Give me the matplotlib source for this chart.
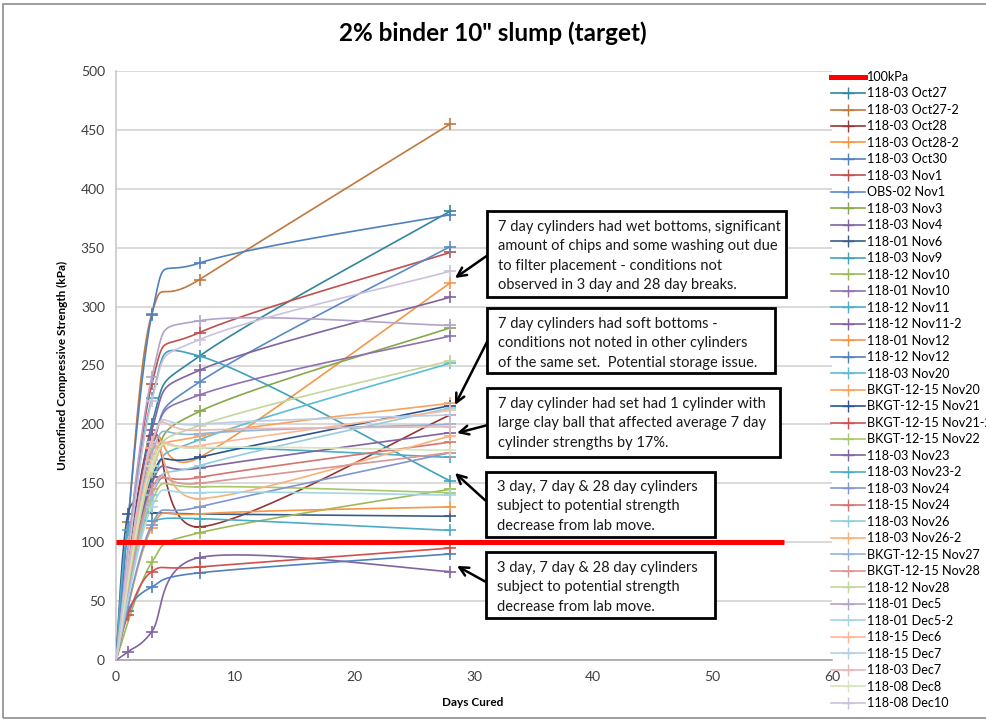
import numpy as np
import matplotlib
matplotlib.use("Agg")
import matplotlib.pyplot as plt
from matplotlib.lines import Line2D
from matplotlib.patches import Rectangle

plt.rcParams['font.family'] = ['Lato', 'DejaVu Sans']

# ---- data -------------------------------------------------------------
days = [0, 1, 3, 7, 28]

series_names = [
    "118-03 Oct27", "118-03 Oct27-2", "118-03 Oct28", "118-03 Oct28-2",
    "118-03 Oct30", "118-03 Nov1", "OBS-02 Nov1", "118-03 Nov3",
    "118-03 Nov4", "118-01 Nov6", "118-03 Nov9", "118-12 Nov10",
    "118-01 Nov10", "118-12 Nov11", "118-12 Nov11-2", "118-01 Nov12",
    "118-12 Nov12", "118-03 Nov20", "BKGT-12-15 Nov20", "BKGT-12-15 Nov21",
    "BKGT-12-15 Nov21-2", "BKGT-12-15 Nov22", "118-03 Nov23", "118-03 Nov23-2",
    "118-03 Nov24", "118-15 Nov24", "118-03 Nov26", "118-03 Nov26-2",
    "BKGT-12-15 Nov27", "BKGT-12-15 Nov28", "118-12 Nov28", "118-01 Dec5",
    "118-01 Dec5-2", "118-15 Dec6", "118-15 Dec7", "118-03 Dec7",
    "118-08 Dec8", "118-08 Dec10",
]

nan = float("nan")
strength_day0 = [0] * 38
strength_day1 = [nan, 117, nan, nan, nan, nan, nan, nan,
                 nan, 124, nan, nan, nan, nan, 7, nan,
                 42, nan, nan, nan, 38, nan, nan, 110,
                 nan, nan, nan, nan, nan, nan, nan, nan,
                 nan, nan, nan, nan, nan, nan]
strength_day3 = [200, 294, 190, 182, 293, 234, 180, 160,
                 195, 125, 222, 83, 180, 165, 24, 112,
                 62, 150, 160, 155, 75, 135, 150, 118,
                 115, 140, 140, 180, 175, 145, 160, 240,
                 130, 170, 185, 185, 165, 220]
strength_day7 = [258, 323, 113, 172, 337, 278, 236, 211,
                 246, 124, 258, 108, 225, 180, 87, 124,
                 74, 187, 190, 172, 79, 147, 163, 120,
                 130, 155, 165, 137, 192, 150, 199, 288,
                 142, 182, 200, 195, 180, 272]
strength_day28 = [381, 455, 208, 320, 378, 346, 351, 282,
                  308, 122, 152, 145, 275, 172, 75, 130,
                  90, 252, 218, 216, 95, 142, 193, 110,
                  176, 185, 214, 190, 200, 176, 254, 284,
                  140, 212, 208, 198, 178, 330]

target_kpa = 100
target_span = [0, 56]

# ---- styling ----------------------------------------------------------
series_colors = [
    "#31859C", "#C0783C", "#953735", "#F79646", "#4F81BD", "#C0504D",
    "#5A8AC6", "#86A84A", "#8064A2", "#385D8A", "#3FA2BA", "#9BBB59",
    "#8E72B0", "#4BACC6", "#8064A2", "#F79646", "#4F81BD", "#5BBCD6",
    "#F9A35E", "#2C5590", "#D0504D", "#A9C86A", "#8064A2", "#4BACC6",
    "#7F96D0", "#D47472", "#93CDDD", "#FAB07A", "#95B3D7", "#D99694",
    "#C3D69B", "#B3A2C7", "#A5D5E3", "#FBB898", "#B9CDE5", "#E6B9B8",
    "#D7E4BD", "#CCC1DA",
]


def smooth_curve(xs, ys, steps=40):
    """Bezier smoothing through the points (spreadsheet style)."""
    pts = np.column_stack([xs, ys]).astype(float)
    n = len(pts)
    if n < 3:
        return pts[:, 0], pts[:, 1]
    out = [pts[0]]
    t = np.linspace(0, 1, steps)[1:, None]
    for i in range(n - 1):
        p0 = pts[i - 1] if i > 0 else pts[i]
        p1 = pts[i]
        p2 = pts[i + 1]
        p3 = pts[i + 2] if i + 2 < n else pts[i + 1]
        dx = p2[0] - p1[0]
        d1 = (p2 - p0) / 6.0
        d2 = (p3 - p1) / 6.0
        lim = 0.9 * dx
        if d1[0] > lim:
            d1 = d1 * lim / d1[0]
        if d2[0] > lim:
            d2 = d2 * lim / d2[0]
        c1 = p1 + d1
        c2 = p2 - d2
        seg = ((1 - t) ** 3) * p1 + 3 * ((1 - t) ** 2) * t * c1 \
            + 3 * (1 - t) * t ** 2 * c2 + t ** 3 * p2
        out.extend(seg)
    out = np.array(out)
    return out[:, 0], out[:, 1]


W, H = 986, 722
fig = plt.figure(figsize=(W / 100, H / 100), dpi=100)


def fx(px):
    return px / W


def fy(py):
    return 1 - py / H


ax = fig.add_axes([fx(116), fy(660), fx(832) - fx(116), fy(71) - fy(660)])
ax.set_xlim(0, 60)
ax.set_ylim(0, 500)
ax.set_xticks(range(0, 61, 10))
ax.set_yticks(range(0, 501, 50))
ax.tick_params(length=0, labelsize=10, colors="#404040", pad=8)
ax.yaxis.grid(True, color="#D9D9D9", linewidth=1.4)
ax.set_axisbelow(True)
for side in ("top", "right"):
    ax.spines[side].set_visible(False)
ax.spines["left"].set_color("#C8C8C8")
ax.spines["bottom"].set_color("#A6A6A6")
ax.spines["left"].set_linewidth(1.2)
ax.spines["bottom"].set_linewidth(1.2)

handles = []
target_line, = ax.plot(target_span, [target_kpa, target_kpa], color="#FF0000",
                       linewidth=3.6, solid_capstyle="butt", zorder=5)
handles.append(Line2D([], [], color="#FF0000", linewidth=3.6))

for i, name in enumerate(series_names):
    vals = [strength_day0[i], strength_day1[i], strength_day3[i],
            strength_day7[i], strength_day28[i]]
    xs = [d for d, v in zip(days, vals) if not np.isnan(v)]
    ys = [v for v in vals if not np.isnan(v)]
    sx, sy = smooth_curve(xs, ys)
    c = series_colors[i]
    ax.plot(sx, sy, color=c, linewidth=1.2, zorder=3)
    ax.plot(xs[1:], ys[1:], linestyle="none", marker="+", markersize=8,
            markeredgewidth=1.2, color=c, zorder=3)
    handles.append(Line2D([], [], color=c, linewidth=1.2, marker="+",
                          markersize=8, markeredgewidth=1.0))

labels = ["100kPa"] + series_names
fig.legend(handles, labels, loc="upper left",
           bbox_to_anchor=(fx(831), fy(71)), frameon=False,
           fontsize=9.1, labelspacing=0.354, handlelength=2.7,
           handletextpad=0.15, borderpad=0, borderaxespad=0, numpoints=1)

fig.text(0.5, fy(33), "2% binder 10\" slump (target)", ha="center",
         va="center", fontsize=17.5, fontweight="bold")
fig.text(fx(473), fy(703), "Days Cured", ha="center", va="center",
         fontsize=8.5, fontweight="bold")
fig.text(fx(62), fy(365), "Unconfined Compressive Strength (kPa)",
         ha="center", va="center", rotation=90, fontsize=8.5,
         fontweight="bold")

# ---- callout boxes ----------------------------------------------------
notes = [
    ((487, 211, 786, 297), 227,
     ["7 day cylinders had wet bottoms, significant",
      "amount of chips and some washing out due",
      "to filter placement - conditions not",
      "observed in 3 day and 28 day breaks."],
     (488, 255), (455, 278)),
    ((487, 308, 775, 373), 324,
     ["7 day cylinders had soft bottoms -",
      "conditions not noted in other cylinders",
      "of the same set.  Potential storage issue."],
     (488, 340), (455, 405)),
    ((487, 388, 780, 457), 404,
     ["7 day cylinder had set had 1 cylinder with",
      "large clay ball that affected average 7 day",
      "cylinder strengths by 17%."],
     (488, 425), (457, 433)),
    ((486, 472, 715, 537), 487,
     ["3 day, 7 day & 28 day cylinders",
      "subject to potential strength",
      "decrease from lab move."],
     (486, 501), (455, 473)),
    ((486, 552, 715, 618), 568,
     ["3 day, 7 day & 28 day cylinders",
      "subject to potential strength",
      "decrease from lab move."],
     (486, 582), (457, 566)),
]
for (x0, y0, x1, y1), first_line, lines, start, tip in notes:
    fig.patches.append(Rectangle((fx(x0), fy(y1)), fx(x1) - fx(x0),
                                 fy(y0) - fy(y1), transform=fig.transFigure,
                                 facecolor="white", edgecolor="black",
                                 linewidth=2, zorder=6))
    for k, line in enumerate(lines):
        fig.text(fx(x0 + 11), fy(first_line + 19.3 * k), line, ha="left",
                 va="center", fontsize=10.5, color="#1a1a1a", zorder=7)
    ax.annotate("", xy=(fx(tip[0]), fy(tip[1])), xycoords="figure fraction",
                xytext=(fx(start[0]), fy(start[1])),
                textcoords="figure fraction",
                arrowprops=dict(arrowstyle="->", color="black", lw=1.8,
                                mutation_scale=16, shrinkA=0, shrinkB=0),
                zorder=7, annotation_clip=False)

# outer frame
fig.patches.append(Rectangle((fx(3), fy(718)), fx(1200), fy(4) - fy(718),
                             transform=fig.transFigure, facecolor="none",
                             edgecolor="#8C8C8C", linewidth=1.2))

fig.savefig("out.png", dpi=100)
